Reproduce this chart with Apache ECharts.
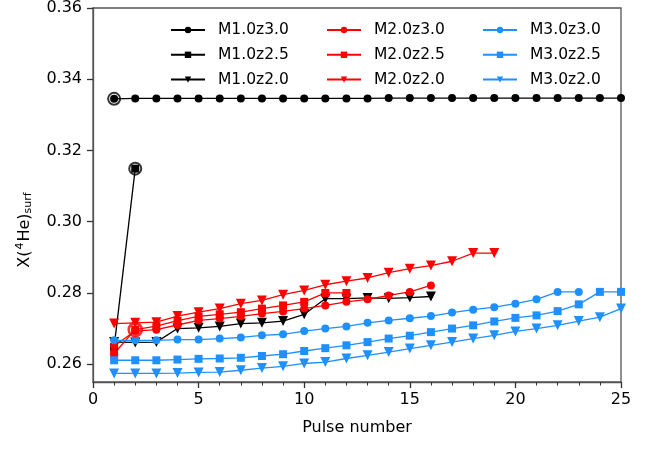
<!DOCTYPE html>
<html>
<head>
<meta charset="utf-8">
<script src="https://cdn.jsdelivr.net/npm/echarts@6/dist/echarts.min.js"></script>
<style>html,body{margin:0;padding:0;background:#fff}#c{width:657px;height:455px}</style>
</head>
<body>
<div id="c"></div>
<script>
// ---- data (values start at pulse 1) ----
const seriesNames = ['M1.0z3.0','M1.0z2.5','M1.0z2.0','M2.0z3.0','M2.0z2.5','M2.0z2.0','M3.0z3.0','M3.0z2.5','M3.0z2.0'];
const m1z30 = [0.3345,0.3346,0.3346,0.3346,0.3346,0.3346,0.3346,0.3346,0.3346,0.3346,0.3346,0.3346,0.3346,0.3347,0.3347,0.3347,0.3347,0.3347,0.3347,0.3347,0.3347,0.3347,0.3347,0.3347,0.3347];
const m1z25 = [0.2648,0.3149];
const m1z20 = [0.2662,0.2661,0.2662,0.2700,0.2702,0.2706,0.2714,0.2716,0.2721,0.2740,0.2784,0.2784,0.2786,0.2785,0.2787,0.2790];
const m2z30 = [0.2652,0.2693,0.2697,0.2710,0.2723,0.2728,0.2734,0.2742,0.2748,0.2756,0.2765,0.2775,0.2782,0.2793,0.2803,0.2821];
const m2z25 = [0.2630,0.2697,0.2707,0.2722,0.2734,0.2740,0.2746,0.2756,0.2765,0.2775,0.2800,0.2800];
const m2z20 = [0.2714,0.2716,0.2718,0.2735,0.2746,0.2756,0.2770,0.2779,0.2795,0.2807,0.2823,0.2833,0.2842,0.2857,0.2868,0.2877,0.2889,0.2912,0.2912];
const m3z30 = [0.2667,0.2667,0.2667,0.2669,0.2669,0.2672,0.2675,0.2681,0.2684,0.2693,0.2700,0.2706,0.2716,0.2723,0.2729,0.2735,0.2745,0.2753,0.2760,0.2770,0.2782,0.2803,0.2803];
const m3z25 = [0.2611,0.2611,0.2611,0.2613,0.2615,0.2616,0.2618,0.2623,0.2628,0.2637,0.2645,0.2653,0.2662,0.2672,0.2680,0.2690,0.2700,0.2709,0.2720,0.2730,0.2737,0.2749,0.2768,0.2803,0.2803];
const m3z20 = [0.2574,0.2574,0.2574,0.2575,0.2577,0.2578,0.2583,0.2589,0.2594,0.2602,0.2606,0.2616,0.2625,0.2634,0.2644,0.2653,0.2662,0.2672,0.2681,0.2692,0.2700,0.2709,0.2721,0.2732,0.2756];
// circled points
const ringX = [1, 2, 2];
const ringY = [0.3345, 0.3149, 0.2697];
const ringColor = ['#000000', '#000000', '#ff0000'];
// axis ticks
const yTicks = [0.26, 0.28, 0.30, 0.32, 0.34, 0.36];

const allValues = [m1z30,m1z25,m1z20,m2z30,m2z25,m2z20,m3z30,m3z25,m3z20];
const colors = ['#000000','#000000','#000000','#ff0000','#ff0000','#ff0000','#1e90ff','#1e90ff','#1e90ff'];
const symbols = ['circle','rect','triangle','circle','rect','triangle','circle','rect','triangle'];
const FONT = 'DejaVu Sans';

const series = allValues.map((vals, i) => ({
  name: seriesNames[i],
  type: 'line',
  data: vals.map((v, k) => [k + 1, v]),
  color: colors[i],
  symbol: symbols[i],
  symbolRotate: symbols[i] === 'triangle' ? 180 : 0,
  symbolSize: symbols[i] === 'circle' ? 8 : (symbols[i] === 'rect' ? 8 : 10),
  lineStyle: { width: 1.3, color: colors[i] },
  itemStyle: { color: colors[i] },
  emphasis: { disabled: true },
  animation: false,
  clip: true
}));

series.push({
  type: 'scatter',
  name: 'rings',
  data: ringX.map((x, i) => ({
    value: [x, ringY[i]],
    symbolSize: ringColor[i] === '#ff0000' ? 13 : 12,
    itemStyle: { borderColor: ringColor[i], borderWidth: ringColor[i] === '#ff0000' ? 2.6 : 2 }
  })),
  symbol: 'circle',
  itemStyle: { color: 'rgba(0,0,0,0)' },
  z: 5,
  silent: true,
  animation: false
});

function legendFor(idx, left) {
  return {
    orient: 'vertical',
    left: left, top: 21, padding: 0,
    data: idx.map(i => seriesNames[i]),
    itemWidth: 34, itemHeight: 8, itemGap: 6.8,
    selectedMode: false,
    textStyle: { fontFamily: FONT, fontSize: 15.5, color: '#000', lineHeight: 18, padding: [0, 0, 0, 8] }
  };
}

const chart = echarts.init(document.getElementById('c'), null, { renderer: 'canvas' });
chart.setOption({
  backgroundColor: '#fff',
  animation: false,
  grid: { left: 93, right: 36, top: 8, bottom: 73, show: true, borderColor: '#555', borderWidth: 1.3, containLabel: false },
  legend: [legendFor([0,1,2], 170), legendFor([3,4,5], 326), legendFor([6,7,8], 482)],
  xAxis: {
    type: 'value', min: 0, max: 25, interval: 5,
    name: 'Pulse number', nameLocation: 'middle', nameGap: 38,
    nameTextStyle: { fontFamily: FONT, fontSize: 16, color: '#000' },
    axisLine: { show: true, lineStyle: { color: '#555', width: 1.3 } },
    axisTick: { show: true, inside: false, length: 6, lineStyle: { color: '#333', width: 1.3 } },
    minorTick: { show: true, splitNumber: 5, length: 3.5, lineStyle: { color: '#333', width: 1 } },
    axisLabel: { fontFamily: FONT, fontSize: 16, color: '#000', margin: 10 },
    splitLine: { show: false }
  },
  yAxis: {
    type: 'value', min: 0.255, max: 0.36,
    axisLine: { show: true, lineStyle: { color: '#555', width: 1.3 } },
    axisTick: { show: true, inside: false, length: 6, customValues: yTicks, lineStyle: { color: '#333', width: 1.3 } },
    axisLabel: { fontFamily: FONT, fontSize: 16, color: '#000', margin: 11, customValues: yTicks, formatter: v => v.toFixed(2) },
    splitLine: { show: false }
  },
  graphic: [{
    type: 'text',
    x: 25, y: 230,
    rotation: Math.PI / 2,
    style: {
      text: '{a|X(}{s|4}{a|He)}{b|surf}',
      align: 'center', verticalAlign: 'middle',
      fill: '#000',
      rich: {
        a: { fontFamily: FONT, fontSize: 16, fill: '#000' },
        s: { fontFamily: FONT, fontSize: 11, fill: '#000', padding: [0, 1, 9, 1] },
        b: { fontFamily: FONT, fontSize: 11, fill: '#000', padding: [7, 0, 0, 0] }
      }
    }
  }],
  series: series
});
</script>
</body>
</html>
